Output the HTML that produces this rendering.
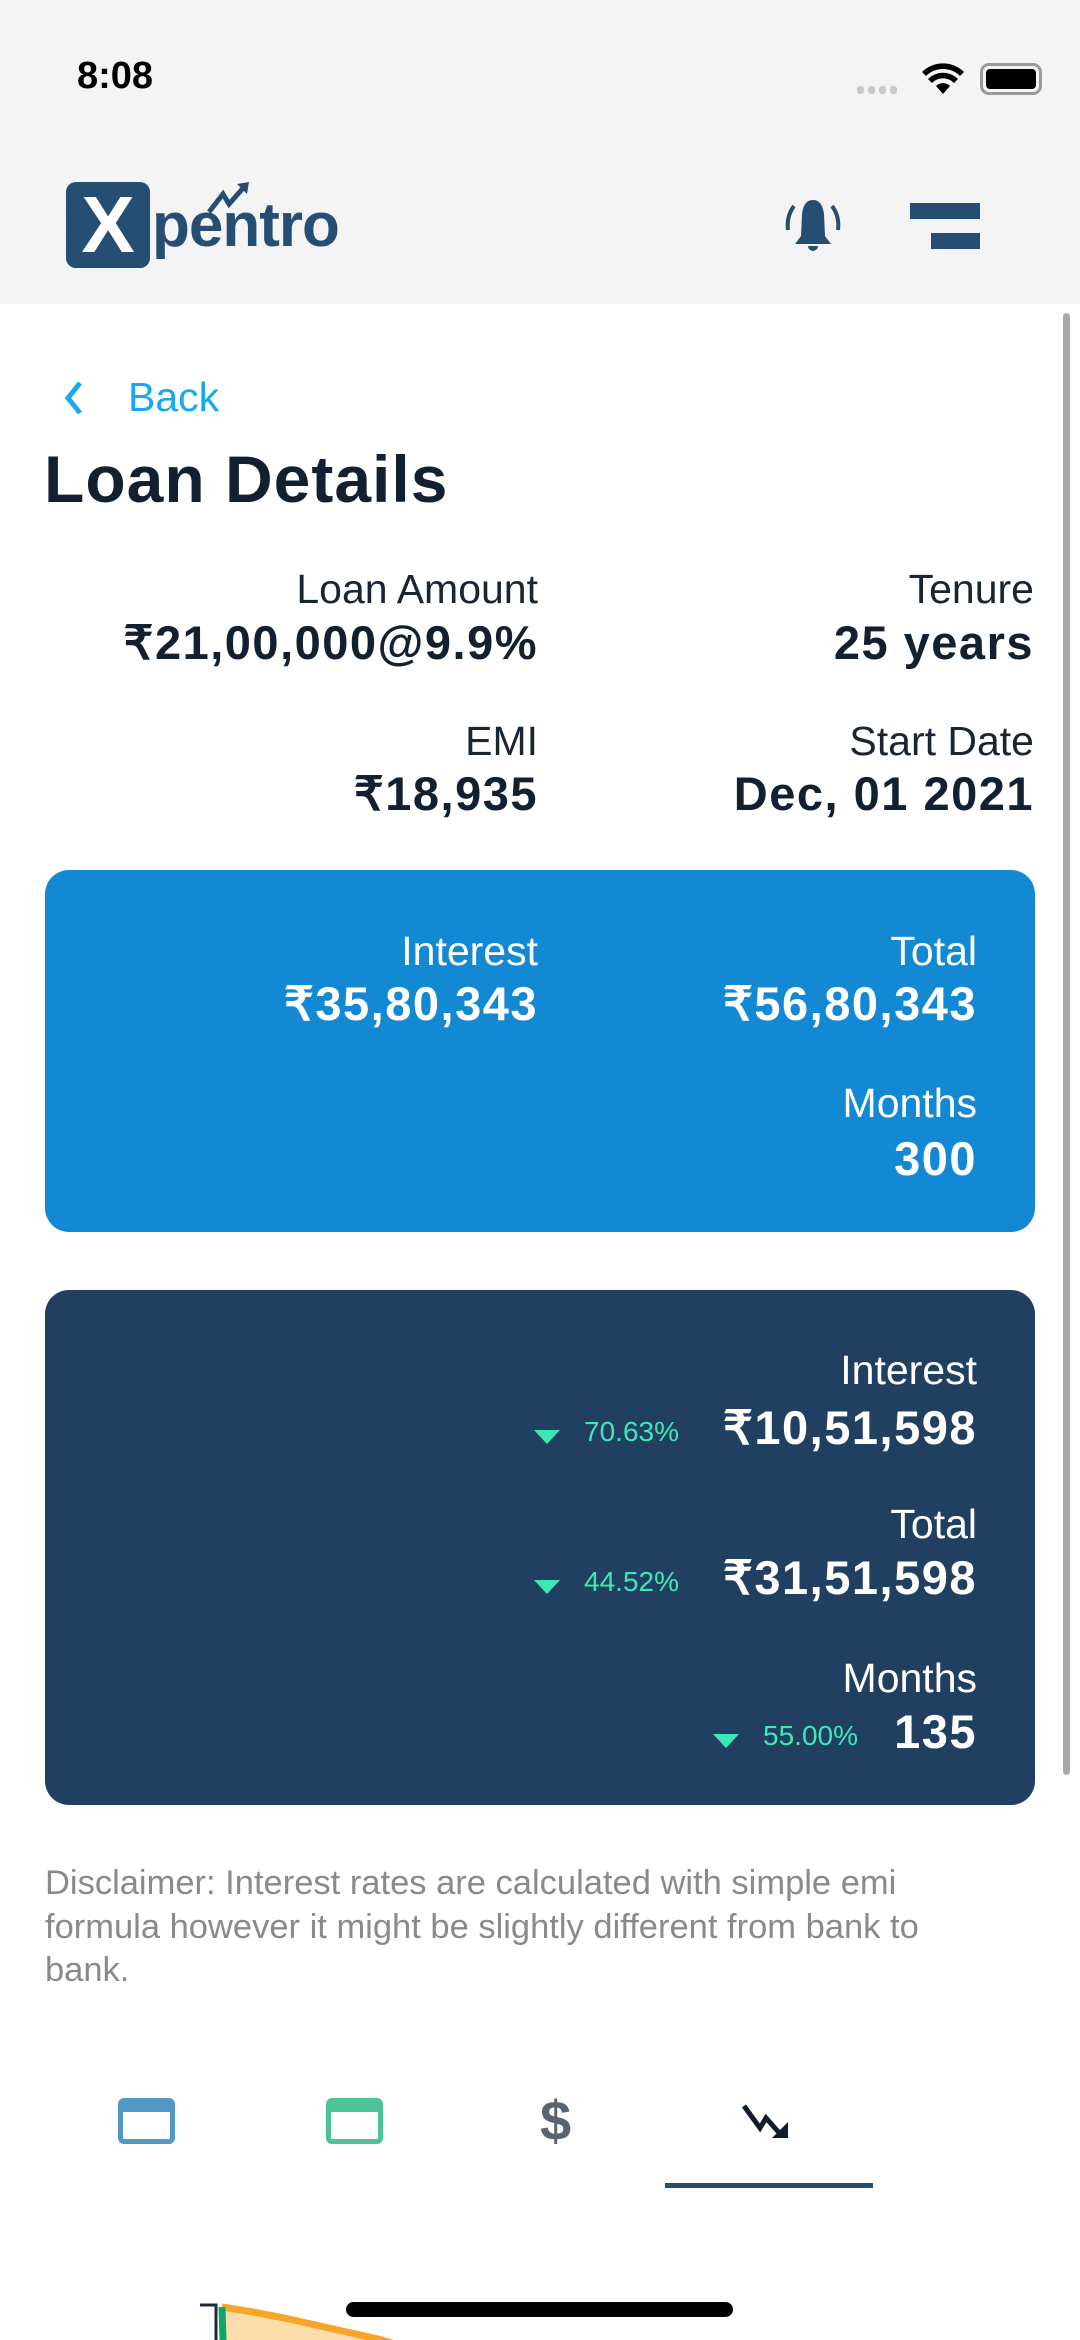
<!DOCTYPE html>
<html><head><meta charset="utf-8">
<style>
*{margin:0;padding:0;box-sizing:border-box}
body{width:1080px;height:2340px;overflow:hidden;background:#fff;font-family:"Liberation Sans","Noto Sans CJK SC",sans-serif;color:#13202f;position:relative}
.abs{position:absolute}
.r{text-align:right;white-space:nowrap}
.lbl{font-size:41px;font-weight:normal;color:#1a2533}
.val{font-size:47px;font-weight:bold;letter-spacing:1.5px}
.w{color:#fff}
.pct{font-size:28px;color:#3ee8b5}
.tri{width:0;height:0;border-left:13px solid transparent;border-right:13px solid transparent;border-top:14px solid #3ee8b5}
</style></head><body>
<div class="abs" style="left:0;top:0;width:1080px;height:304px;background:#f4f4f4"></div>
<div class="abs" style="left:77px;top:55px;font-size:38px;font-weight:bold;color:#000">8:08</div>
<div class="abs" style="left:857px;top:86px;display:flex;gap:4px">
<i style="width:7px;height:8px;background:#c8c8c8;border-radius:3px"></i><i style="width:7px;height:8px;background:#c8c8c8;border-radius:3px"></i><i style="width:7px;height:8px;background:#c8c8c8;border-radius:3px"></i><i style="width:7px;height:8px;background:#c8c8c8;border-radius:3px"></i></div>
<svg class="abs" style="left:922px;top:62px" width="42" height="34" viewBox="0 0 42 34"><path d="M21 32 L14 24 A10 10 0 0 1 28 24Z M6 17 A21 21 0 0 1 36 17 L32 21 A15 15 0 0 0 10 21Z M0 10 A30 30 0 0 1 42 10 L38 14 A24 24 0 0 0 4 14Z" fill="#000"/></svg>
<div class="abs" style="left:980px;top:63px;width:62px;height:32px;border:3px solid #999;border-radius:9px;padding:3px"><div style="width:100%;height:100%;background:#000;border-radius:4px"></div></div>
<div class="abs" style="left:66px;top:182px;width:84px;height:86px;background:#264d72;border-radius:10px;color:#fff;font-size:80px;font-weight:bold;text-align:center;line-height:86px">X</div>
<div class="abs" style="left:152px;top:190px;font-size:62px;font-weight:bold;color:#264d72;letter-spacing:-1px">pentro</div>
<svg class="abs" style="left:205px;top:180px" width="70" height="36"><path d="M4 32 L18 14 L24 24 L40 6" stroke="#264d72" stroke-width="5" fill="none"/><path d="M32 4 L44 2 L42 14Z" fill="#264d72"/></svg>
<svg class="abs" style="left:782px;top:196px" width="62" height="60" viewBox="0 0 62 60"><path d="M31 4 C24 4 21 10 20 18 L19 40 L13 48 L49 48 L43 40 L42 18 C41 10 38 4 31 4Z" fill="#264d72"/><path d="M26 50 A5 5 0 0 0 36 50Z" fill="#264d72"/><path d="M12 10 C6 18 5 26 6 34 M50 10 C56 18 57 26 56 34" stroke="#264d72" stroke-width="4" fill="none"/></svg>
<div class="abs" style="left:910px;top:203px;width:70px;height:50px">
<div style="position:absolute;left:0;top:0;width:70px;height:16px;background:#264d72"></div>
<div style="position:absolute;left:21px;top:30px;width:49px;height:16px;background:#264d72"></div></div>
<div class="abs" style="left:1063px;top:313px;width:7px;height:1462px;background:#a8a8a8;border-radius:4px"></div>

<div class="abs" style="left:62px;top:374px;color:#17a9f0;font-size:41px;display:flex;align-items:center">
<svg width="24" height="38"><path d="M18 4 L6 19 L18 34" stroke="#17a9f0" stroke-width="5" fill="none"/></svg><span style="margin-left:42px">Back</span></div>
<div class="abs" style="left:44px;top:441px;font-size:66px;font-weight:bold;letter-spacing:1px">Loan Details</div>

<div class="abs r lbl" style="right:542px;top:566px">Loan Amount</div>
<div class="abs r val" style="right:542px;top:615px">₹21,00,000@9.9%</div>
<div class="abs r lbl" style="right:46px;top:566px">Tenure</div>
<div class="abs r val" style="right:46px;top:615px">25 years</div>
<div class="abs r lbl" style="right:542px;top:718px">EMI</div>
<div class="abs r val" style="right:542px;top:766px">₹18,935</div>
<div class="abs r lbl" style="right:46px;top:718px">Start Date</div>
<div class="abs r val" style="right:46px;top:766px">Dec, 01 2021</div>

<div class="abs" style="left:45px;top:870px;width:990px;height:362px;background:#1389d4;border-radius:24px"></div>
<div class="abs r lbl w" style="right:542px;top:928px">Interest</div>
<div class="abs r val w" style="right:542px;top:976px">₹35,80,343</div>
<div class="abs r lbl w" style="right:103px;top:928px">Total</div>
<div class="abs r val w" style="right:103px;top:976px">₹56,80,343</div>
<div class="abs r lbl w" style="right:103px;top:1080px">Months</div>
<div class="abs r val w" style="right:103px;top:1131px">300</div>

<div class="abs" style="left:45px;top:1290px;width:990px;height:515px;background:#213f61;border-radius:24px"></div>
<div class="abs r lbl w" style="right:103px;top:1347px">Interest</div>
<div class="abs r val w" style="right:103px;top:1400px">₹10,51,598</div>
<div class="abs tri" style="left:534px;top:1430px"></div>
<div class="abs r pct" style="right:401px;top:1416px">70.63%</div>
<div class="abs r lbl w" style="right:103px;top:1501px">Total</div>
<div class="abs r val w" style="right:103px;top:1550px">₹31,51,598</div>
<div class="abs tri" style="left:534px;top:1580px"></div>
<div class="abs r pct" style="right:401px;top:1566px">44.52%</div>
<div class="abs r lbl w" style="right:103px;top:1655px">Months</div>
<div class="abs r val w" style="right:103px;top:1704px">135</div>
<div class="abs tri" style="left:713px;top:1734px"></div>
<div class="abs r pct" style="right:222px;top:1720px">55.00%</div>

<div class="abs" style="left:45px;top:1862px;width:965px;font-size:34.5px;line-height:43.5px;color:#8a8a8a">Disclaimer: Interest rates are calculated with simple emi formula however it might be slightly different from bank to bank.</div>

<div class="abs" style="left:118px;top:2098px;width:57px;height:46px;border:5px solid #5298c4;border-top-width:14px;border-radius:6px;box-shadow:inset 0 4px 0 #fff"></div>
<div class="abs" style="left:326px;top:2098px;width:57px;height:46px;border:5px solid #4dc496;border-top-width:14px;border-radius:6px;box-shadow:inset 0 4px 0 #fff"></div>
<div class="abs" style="left:540px;top:2088px;font-size:56px;font-weight:bold;color:#5a6470">$</div>
<svg class="abs" style="left:740px;top:2102px" width="56" height="40"><path d="M4 4 L20 26 L26 16 L42 34" stroke="#0f1d2b" stroke-width="5" fill="none"/><path d="M48 20 L48 36 L32 36Z" fill="#0f1d2b"/></svg>
<div class="abs" style="left:665px;top:2183px;width:208px;height:5px;background:#264d72"></div>

<svg class="abs" style="left:0;top:2290px" width="1080" height="50" id="chart"></svg>
<div class="abs" style="left:346px;top:2302px;width:387px;height:15px;background:#000;border-radius:8px"></div>
<script>
const months=[0,12,24,36,48,60,72,84];
const originalBalance=[21,20.75,20.45,20.1,19.75,19.4,18.95,18.5];
const prepaidBalance=[21,8,0];
const prepaidMonths=[0,3,6];
const svg=document.getElementById('chart');
const NS='http://www.w3.org/2000/svg';
const x=m=>222+m*2.6;
const y=v=>17+(21-v)*20;
let a=svg.ownerDocument.createElementNS(NS,'path');
let d='M'+x(0)+' '+y(21);
months.forEach((m,i)=>{d+=' L'+x(m)+' '+y(originalBalance[i]);});
let fill=d+' L'+x(months[months.length-1])+' 60 L'+x(0)+' 60Z';
a.setAttribute('d',fill);a.setAttribute('fill','#fbdcab');


svg.appendChild(a);
let l=svg.ownerDocument.createElementNS(NS,'path');
l.setAttribute('d',d);l.setAttribute('stroke','#f7a427');l.setAttribute('stroke-width','7');l.setAttribute('fill','none');


svg.appendChild(l);
let g=svg.ownerDocument.createElementNS(NS,'path');
let gd='M'+x(0)+' '+y(21);
prepaidMonths.forEach((m,i)=>{gd+=' L'+x(m)+' '+y(prepaidBalance[i]);});
g.setAttribute('d',gd);g.setAttribute('stroke','#0aa86a');g.setAttribute('stroke-width','7');g.setAttribute('fill','#9ccf9a');


svg.appendChild(g);
let ax=svg.ownerDocument.createElementNS(NS,'path');
ax.setAttribute('d','M200 15 L216 15 L216 60');ax.setAttribute('stroke','#1c2a38');ax.setAttribute('stroke-width','3');ax.setAttribute('fill','none');


svg.appendChild(ax);
</script>
</body></html>
